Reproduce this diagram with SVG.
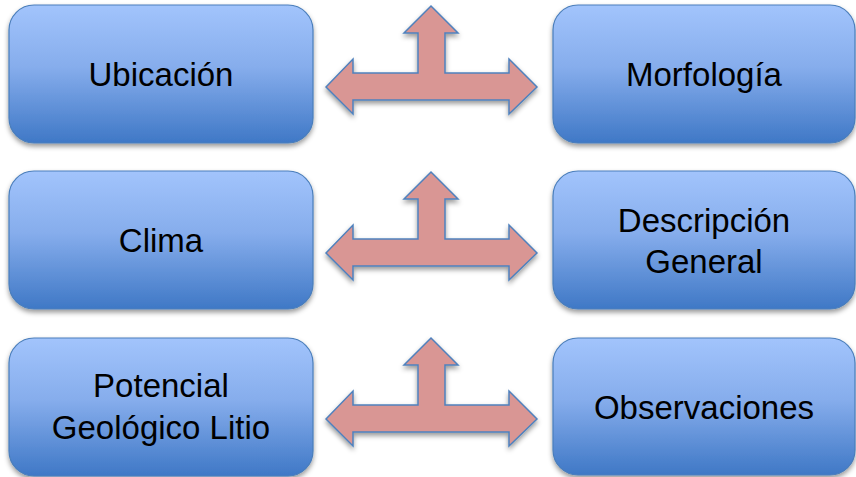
<svg xmlns="http://www.w3.org/2000/svg" width="856" height="477" viewBox="0 0 856 477">
<defs>
<linearGradient id="boxGrad" x1="0" y1="0" x2="0" y2="1">
<stop offset="0" stop-color="#A2C4FC"/>
<stop offset="0.45" stop-color="#86ADEC"/>
<stop offset="1" stop-color="#3F78C6"/>
</linearGradient>
<filter id="shadow" x="-10%" y="-10%" width="120%" height="130%">
<feDropShadow dx="0" dy="3" stdDeviation="2.5" flood-color="#000" flood-opacity="0.4"/>
</filter>
<path id="tarrow" d="M326,87 L353,59 L353,73 L418,73 L418,33 L404,33 L431,6 L458,33 L445,33 L445,73 L509,73 L509,59 L537,87 L509,114 L509,100 L353,100 L353,114 Z"/>
</defs>
<style>
.box{fill:url(#boxGrad);stroke:#4A7EBB;stroke-width:1.2;filter:url(#shadow)}
.lbl{font-family:"Liberation Sans",Arial,sans-serif;font-size:33px;fill:#000;text-anchor:middle}
.arr{fill:#D99694;stroke:#4F81BD;stroke-width:1.5;stroke-linejoin:miter;filter:url(#shadow)}
</style>
<rect width="856" height="477" fill="#fff"/>
<g id="connectors">
<use href="#tarrow" class="arr"/>
<use href="#tarrow" class="arr" transform="translate(0,166)"/>
<use href="#tarrow" class="arr" transform="translate(0,332)"/>
</g>
<g id="ubicacion">
<rect class="box" x="9" y="5" width="304" height="138" rx="25"/>
<text class="lbl" x="161" y="86">Ubicación</text>
</g>
<g id="morfologia">
<rect class="box" x="553" y="5" width="302" height="138" rx="25"/>
<text class="lbl" x="704" y="86">Morfología</text>
</g>
<g id="clima">
<rect class="box" x="9" y="171" width="304" height="138" rx="25"/>
<text class="lbl" x="161" y="252">Clima</text>
</g>
<g id="descripcion">
<rect class="box" x="553" y="171" width="302" height="138" rx="25"/>
<text class="lbl" x="704" y="232">Descripción</text>
<text class="lbl" x="704" y="273">General</text>
</g>
<g id="potencial">
<rect class="box" x="9" y="338" width="304" height="138" rx="25"/>
<text class="lbl" x="161" y="397">Potencial</text>
<text class="lbl" x="161" y="439">Geológico Litio</text>
</g>
<g id="observaciones">
<rect class="box" x="553" y="338" width="302" height="137" rx="25"/>
<text class="lbl" x="704" y="419">Observaciones</text>
</g>
</svg>
